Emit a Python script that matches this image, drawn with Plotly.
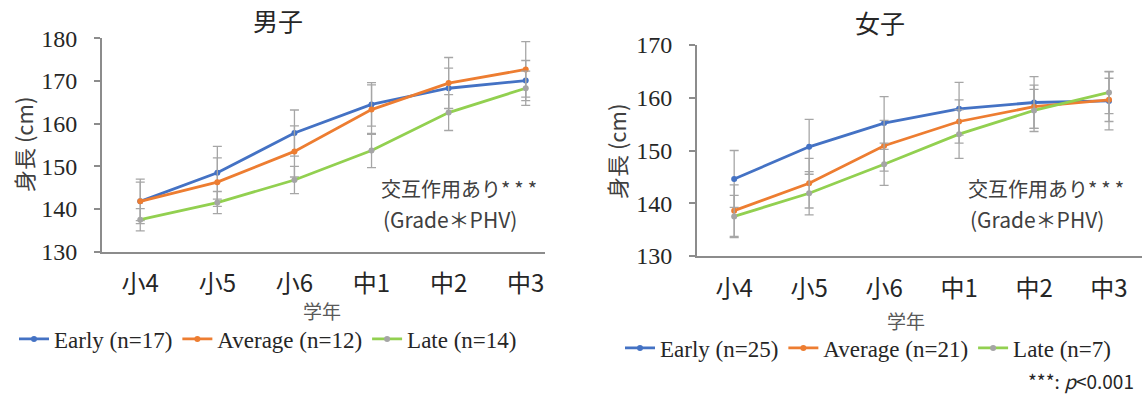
import plotly.graph_objects as go

# ---------------- data ----------------
grades = ["小4", "小5", "小6", "中1", "中2", "中3"]

boys_labels = ["Early (n=17)", "Average (n=12)", "Late (n=14)"]
boys_early = [141.8, 148.5, 157.8, 164.5, 168.3, 170.1]
boys_early_sd = [5.2, 6.2, 5.4, 5.1, 4.7, 4.7]
boys_avg = [141.8, 146.3, 153.5, 163.3, 169.5, 172.7]
boys_avg_sd = [4.5, 5.7, 6.0, 5.8, 6.0, 6.5]
boys_late = [137.5, 141.5, 146.8, 153.7, 162.6, 168.3]
boys_late_sd = [2.6, 2.6, 3.2, 4.0, 4.2, 4.0]

girls_labels = ["Early (n=25)", "Average (n=21)", "Late (n=7)"]
girls_early = [144.6, 150.7, 155.2, 157.9, 159.1, 159.4]
girls_early_sd = [5.4, 5.2, 5.0, 5.0, 4.9, 5.5]
girls_avg = [138.6, 143.8, 150.9, 155.5, 158.3, 159.6]
girls_avg_sd = [4.9, 4.7, 4.8, 4.1, 4.1, 4.1]
girls_late = [137.5, 141.9, 147.4, 153.1, 157.6, 161.0]
girls_late_sd = [4.0, 4.1, 4.0, 4.6, 4.0, 4.0]

line_colors = ["#4472C4", "#ED7D31", "#92D050"]
marker_colors = ["#4472C4", "#ED7D31", "#A5A5A5"]
ERR = "#A6A6A6"
AXIS = "#8C8C8C"
TXT = "#262626"
SERIF = "Liberation Serif, Times New Roman, serif"
SANS = "Noto Sans CJK JP, Noto Sans, sans-serif"

W, H = 1142, 394
px = lambda x: x / W
py = lambda y: 1 - y / H

fig = go.Figure()

def add_series(xaxis, yaxis, legend, labels, vals, sds):
    for i, (lab, v, sd) in enumerate(zip(labels, vals, sds)):
        fig.add_trace(go.Scatter(
            x=grades, y=v, name=lab, mode="lines+markers",
            xaxis=xaxis, yaxis=yaxis, legend=legend,
            line=dict(color=line_colors[i], width=2.8),
            marker=dict(color=marker_colors[i], size=6),
            error_y=dict(type="data", array=sd, visible=True,
                         color=ERR, thickness=1.3, width=4.5),
        ))

add_series("x", "y", "legend", boys_labels,
           [boys_early, boys_avg, boys_late],
           [boys_early_sd, boys_avg_sd, boys_late_sd])
add_series("x2", "y2", "legend2", girls_labels,
           [girls_early, girls_avg, girls_late],
           [girls_early_sd, girls_avg_sd, girls_late_sd])

xcommon = dict(type="category", showline=True, linecolor=AXIS, linewidth=1.5,
               showgrid=False, zeroline=False, ticks="", automargin=False,
               tickfont=dict(family=SANS, size=24, color=TXT),
               ticklabelstandoff=10)
ycommon = dict(showline=True, linecolor=AXIS, linewidth=1.5, showgrid=False,
               zeroline=False, ticks="outside", ticklen=6, tickcolor=AXIS,
               tickwidth=1.5, dtick=10, automargin=False,
               tickfont=dict(family=SERIF, size=24, color=TXT),
               ticklabelstandoff=12)

fig.update_layout(
    width=W, height=H, autosize=False, margin=dict(l=0, r=0, t=0, b=0, pad=0),
    paper_bgcolor="white", plot_bgcolor="white",
    xaxis=dict(domain=[px(101.7), px(545)], range=[-0.5, 5.25], anchor="y", **xcommon),
    yaxis=dict(domain=[py(251.7), py(38.3)], range=[130, 180], anchor="x", **ycommon),
    xaxis2=dict(domain=[px(696.7), 1.0], range=[-0.5, 5.44], anchor="y2", **xcommon),
    yaxis2=dict(domain=[py(256), py(45)], range=[130, 170], anchor="x2", **ycommon),
    legend=dict(orientation="h", x=px(14), y=py(339), xanchor="left", yanchor="middle",
                font=dict(family=SERIF, size=23, color=TXT), itemwidth=30,
                bgcolor="rgba(0,0,0,0)", tracegroupgap=0),
    legend2=dict(orientation="h", x=px(620), y=py(348), xanchor="left", yanchor="middle",
                 font=dict(family=SERIF, size=23, color=TXT), itemwidth=30,
                 bgcolor="rgba(0,0,0,0)", tracegroupgap=0),
    showlegend=True,
)

ann = []
def A(text, x, y, size, color=TXT, family=SANS, xanchor="center", angle=0):
    ann.append(dict(text=text, x=px(x), y=py(y), xref="paper", yref="paper",
                    showarrow=False, xanchor=xanchor, yanchor="middle",
                    textangle=angle, font=dict(family=family, size=size, color=color)))

stars = "*\u2009*\u2009*"
A("男子", 278, 20, 25)
A("女子", 880, 22, 25)
A("身長 (cm)", 23, 145, 22, color="#404040", angle=-90)
A("身長 (cm)", 616, 152, 22, color="#404040", angle=-90)
A("学年", 322, 310, 19, color="#595959")
A("学年", 906, 320, 19, color="#595959")
A("交互作用あり" + stars, 379, 189, 20, color="#404040", xanchor="left")
A("(Grade＊PHV)", 381, 219, 21, color="#404040", xanchor="left")
A("交互作用あり" + stars, 966, 189, 20, color="#404040", xanchor="left")
A("(Grade＊PHV)", 968, 219, 21, color="#404040", xanchor="left")
A("***: <i>p</i>&lt;0.001", 1136, 380, 19, color=TXT, xanchor="right")
fig.update_layout(annotations=ann)

fig.write_html("out.html", config={"displayModeBar": False},
               post_script="document.body.style.margin='0';document.body.style.overflow='hidden';")
